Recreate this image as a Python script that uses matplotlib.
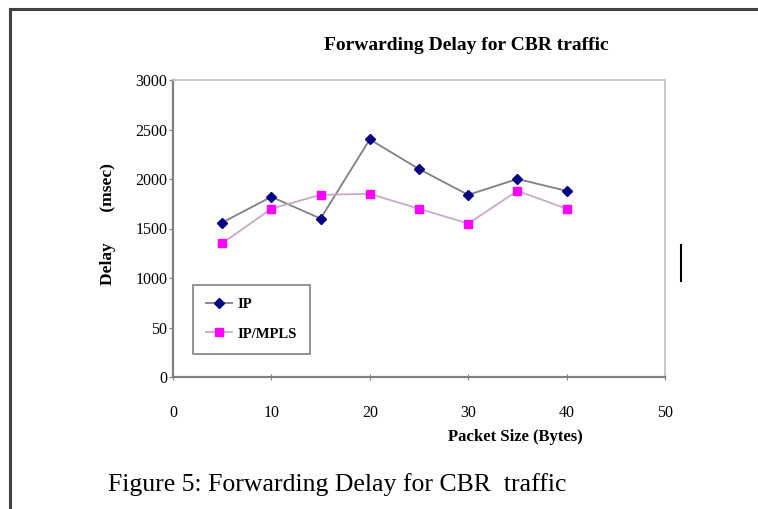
import matplotlib
matplotlib.use("Agg")
from matplotlib import pyplot as plt
from matplotlib.lines import Line2D

packet_size = [5, 10, 15, 20, 25, 30, 35, 40]
delay_ip = [1560, 1820, 1600, 2400, 2100, 1840, 2000, 1880]
delay_ipmpls = [1350, 1700, 1840, 1850, 1700, 1550, 1880, 1700]
y_ticks = [0, 500, 1000, 1500, 2000, 2500, 3000]
y_tick_labels = ["0", "50", "1000", "1500", "2000", "2500", "3000"]
x_ticks = [0, 10, 20, 30, 40, 50]

plt.rcParams["font.family"] = ["Liberation Serif", "DejaVu Serif"]

W, H = 758, 509
fig = plt.figure(figsize=(W / 100, H / 100), dpi=100)
fig.patch.set_facecolor("white")

# page frame (top and left edges of the screenshot box)
fig.add_artist(Line2D([10 / W, 1], [1 - 9 / H, 1 - 9 / H], color="#404040", lw=2.2))
fig.add_artist(Line2D([10 / W, 10 / W], [0, 1 - 9 / H], color="#404040", lw=2.2))
# stray cursor mark on the right
fig.add_artist(Line2D([681 / W, 681 / W], [1 - 245 / H, 1 - 281 / H], color="black", lw=1.5))

ax = fig.add_axes([173 / W, 1 - 377 / H, 492 / W, 297 / H])
ax.plot(packet_size, delay_ip, color="#808080", lw=1.3, marker="D", ms=5,
        mfc="#000080", mec="#000080", label="IP")
ax.plot(packet_size, delay_ipmpls, color="#c8a8c8", lw=1.3, marker="s", ms=6,
        mfc="#ff00ff", mec="#ff00ff", label="IP/MPLS")

ax.set_xlim(0, 50)
ax.set_ylim(0, 3000)
ax.set_xticks(x_ticks)
ax.set_yticks(y_ticks)
ax.set_yticklabels(y_tick_labels)
ax.tick_params(axis="y", direction="out", length=3, pad=1, labelsize=11.5, colors="#808080", labelcolor="black")
ax.tick_params(axis="x", direction="inout", length=5, pad=18, labelsize=11.5, colors="#808080", labelcolor="black")

for side in ("left", "bottom"):
    ax.spines[side].set_color("#808080")
    ax.spines[side].set_linewidth(1.6)
for side in ("top", "right"):
    ax.spines[side].set_color("#c0c0c0")
    ax.spines[side].set_linewidth(1.2)

leg = ax.legend(loc="upper left", bbox_to_anchor=(0.04, 0.31), borderaxespad=0, fancybox=False,
                edgecolor="#808080", framealpha=1, prop={"weight": "bold", "size": 10.5},
                handlelength=1.8, handletextpad=0.4, borderpad=0.9, labelspacing=1.1)
leg.get_frame().set_linewidth(1.2)

fig.text(466 / W, 1 - 45 / H, "Forwarding Delay for CBR traffic", ha="center", va="center",
         fontsize=14, fontweight="bold")
fig.text(108 / W, 1 - 224 / H, "Delay       (msec)", ha="center", va="center", rotation=90,
         fontsize=12.5, fontweight="bold")
fig.text(515 / W, 1 - 437 / H, "Packet Size (Bytes)", ha="center", va="center",
         fontsize=12, fontweight="bold")
fig.text(108 / W, 1 - 485 / H, "Figure 5: Forwarding Delay for CBR  traffic", ha="left", va="center",
         fontsize=18.5)

fig.savefig("out.png", dpi=100)
